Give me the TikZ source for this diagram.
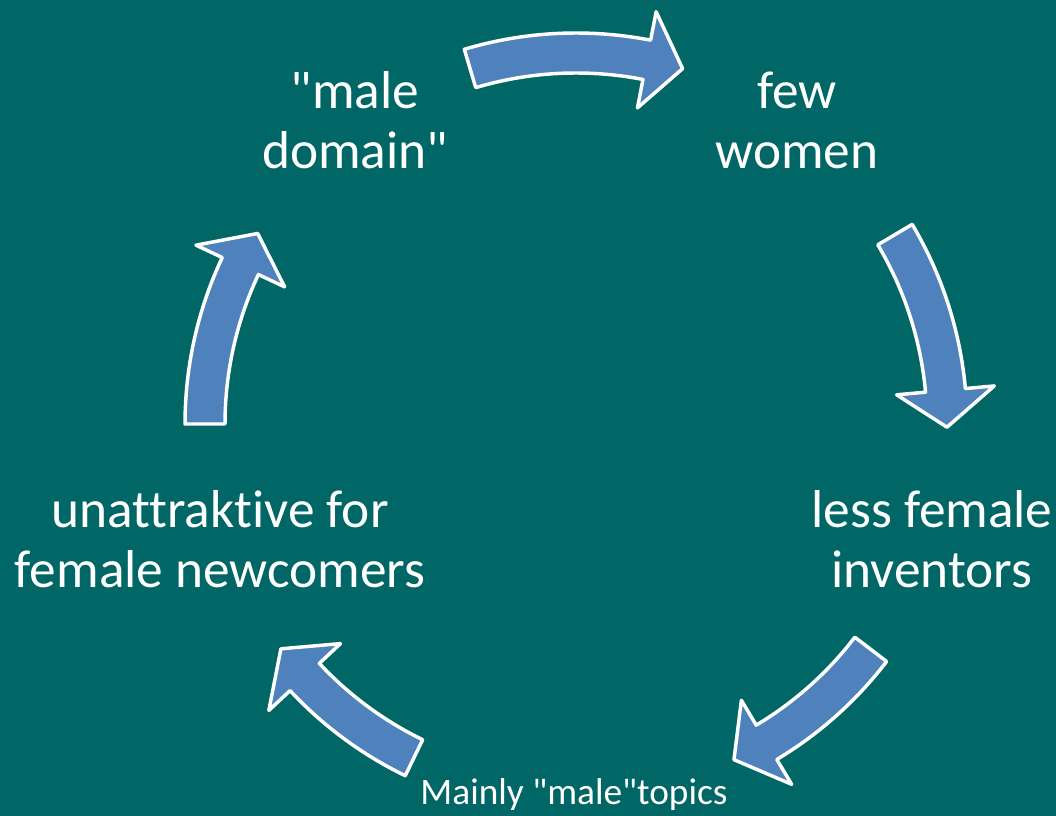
\documentclass[tikz,border=0pt]{standalone}
\usepackage{fontspec}
\newfontfamily\calib{Carlito}[Ligatures=NoCommon]
\definecolor{bgteal}{RGB}{0,102,102}
\definecolor{arrowblue}{RGB}{79,129,189}
\begin{document}
\begin{tikzpicture}[x=0.75pt,y=0.75pt,
  lbl/.style={text=white, font=\calib\fontsize{40}{45}\selectfont, align=center, inner sep=0pt},
  smalllbl/.style={text=white, font=\calib\fontsize{28}{32}\selectfont, inner sep=0pt},
  cyclearrow/.style={fill=arrowblue, draw=white, line width=2.6pt, line join=round}]
\fill[bgteal] (0,0) rectangle (1056,816);
\useasboundingbox (0,0) rectangle (1056,816);
\def\cx{576}\def\cy{392}
\def\R{371}\def\w{20}\def\h{49}\def\hd{5.7}
\foreach \a/\b in {106.6/73.3, 30.7/-0.5, -37.4/-64.8, -115.9/-142.7, 180/149.1}{
  \pgfmathsetmacro\ab{\b+\hd}
  \draw[cyclearrow]
    plot[domain=\a:\ab,samples=40] ({\cx+(\R+\w)*cos(\x)},{\cy+(\R+\w)*sin(\x)})
    -- ({\cx+(\R+\h)*cos(\ab)},{\cy+(\R+\h)*sin(\ab)})
    -- ({\cx+\R*cos(\b)},{\cy+\R*sin(\b)})
    -- ({\cx+(\R-\h)*cos(\ab)},{\cy+(\R-\h)*sin(\ab)})
    -- plot[domain=\ab:\a,samples=40] ({\cx+(\R-\w)*cos(\x)},{\cy+(\R-\w)*sin(\x)})
    -- cycle;
}
\node[lbl] (male) at (355,696) {"male\\domain"};
\node[lbl] (few) at (797,696) {few\\women};
\node[lbl] (less) at (932,277) {less female\\inventors};
\node[lbl] (unat) at (220,277) {unattraktive for\\female newcomers};
\node[smalllbl, anchor=base] (mainly) at (574,11) {Mainly "male"topics};
\end{tikzpicture}
\end{document}
